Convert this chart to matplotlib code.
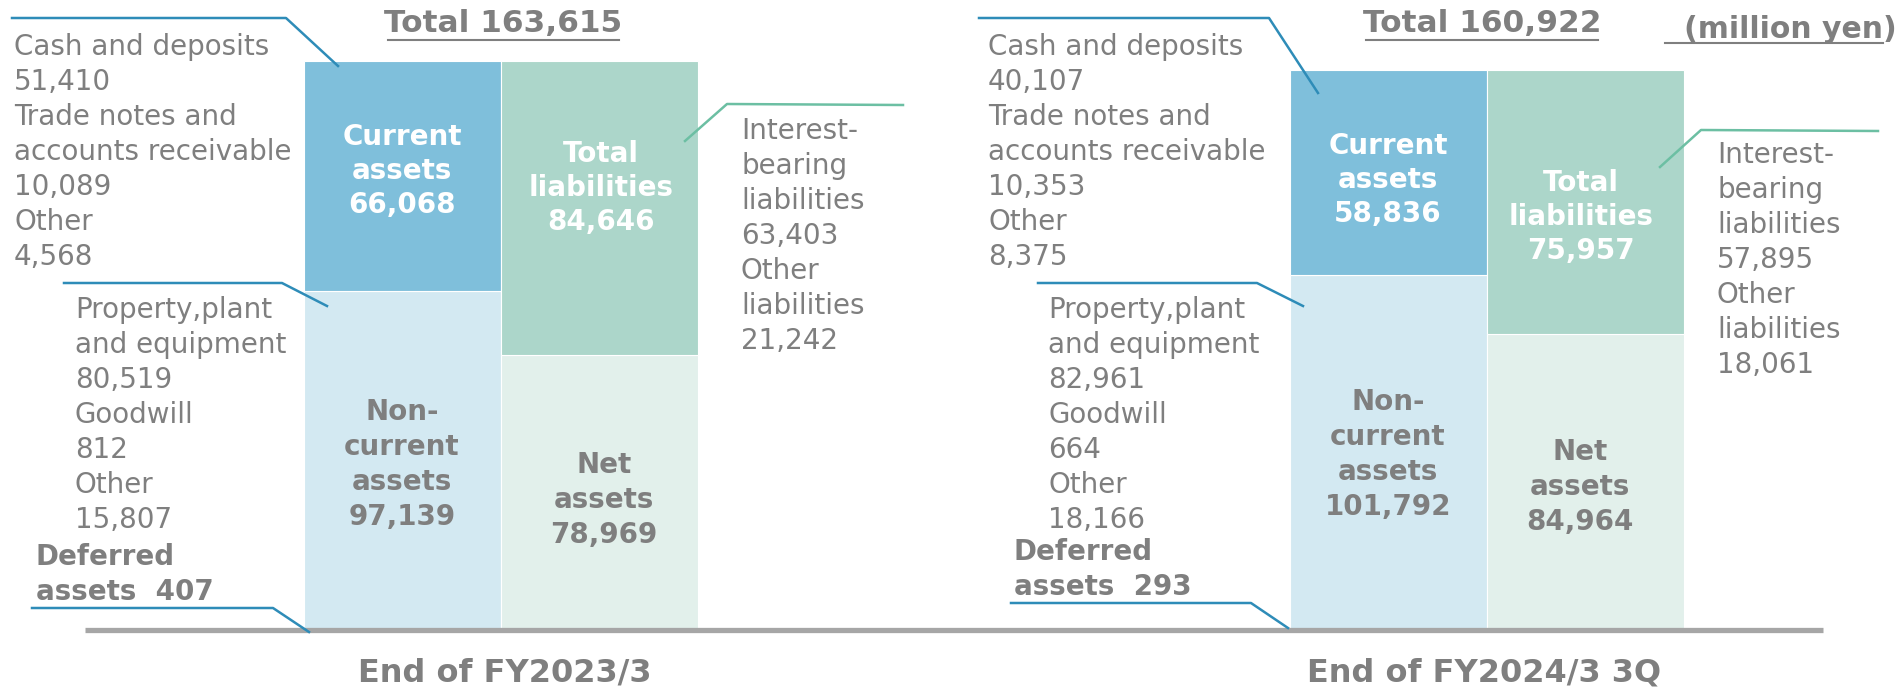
import matplotlib
matplotlib.use("Agg")
import matplotlib.pyplot as plt

plt.rcParams['font.family'] = ['DejaVu Sans']

# ---- data (million yen) ----
categories = ["End of FY2023/3", "End of FY2024/3 3Q"]
totals = [163615, 160922]
current_assets = [66068, 58836]
noncurrent_assets = [97139, 101792]
deferred_assets = [407, 293]
total_liabilities = [84646, 75957]
net_assets = [78969, 84964]
cash = [51410, 40107]
receivables = [10089, 10353]
other_current = [4568, 8375]
ppe = [80519, 82961]
goodwill = [812, 664]
other_noncurrent = [15807, 18166]
interest_bearing = [63403, 57895]
other_liabilities = [21242, 18061]
unit_label = "(million yen)"

# ---- styles ----
C_CA = '#7fbfdb'
C_NCA = '#d3e9f2'
C_TL = '#acd6ca'
C_NA = '#e2f0eb'
GRAY = '#7f7f7f'
BLUE = '#2e8cb8'
TEAL = '#6cbfa3'

W, H = 1900, 688
fig = plt.figure(figsize=(W / 100, H / 100), dpi=100)
ax = fig.add_axes([0, 0, 1, 1])
ax.set_xlim(0, W)
ax.set_ylim(-16666, 181029)
ax.axis('off')
ax2 = fig.add_axes([0, 0, 1, 1])
ax2.set_xlim(0, W)
ax2.set_ylim(H, 0)
ax2.axis('off')
ax2.patch.set_alpha(0)

asset_x = [402, 1388]
liab_x = [599, 1585]
bw = 197

for i in range(2):
    ax.bar(asset_x[i], deferred_assets[i], bottom=0, width=bw, color=C_NCA, linewidth=0)
    ax.bar(asset_x[i], noncurrent_assets[i], bottom=deferred_assets[i], width=bw,
           color=C_NCA, edgecolor='white', linewidth=0.8)
    ax.bar(asset_x[i], current_assets[i], bottom=deferred_assets[i] + noncurrent_assets[i],
           width=bw, color=C_CA, edgecolor='white', linewidth=0.8)
    ax.bar(liab_x[i], net_assets[i], bottom=0, width=bw, color=C_NA, edgecolor='white', linewidth=0.8)
    ax.bar(liab_x[i], total_liabilities[i], bottom=net_assets[i], width=bw,
           color=C_TL, edgecolor='white', linewidth=0.8)

# baseline
ax.plot([85, 1823], [0, 0], color='#a6a6a6', lw=3.8, solid_capstyle='butt', zorder=5)


def block(x, y0, lines, step=35, ha='left', color=GRAY, weight='normal', size=20):
    for k, s in enumerate(lines):
        ax2.text(x, y0 + k * step, s, ha=ha, va='center', color=color,
                 fontsize=size, fontweight=weight)


def f(v):
    return f"{v:,}"


cash_x = [14, 988]
ppe_x = [75, 1048]
def_x = [36, 1014]
def_y = [557, 552]
ib_x = [741, 1717]
ib_y = [131, 155]
ca_y = [137, 146]
tl_y = [154, 183]
nca_y = [412, 402]
na_y = [465, 452]
na_x = [604, 1580]
tl_x = [601, 1581]
tot_x = [503, 1482]
cat_x = [505, 1484]

for i in range(2):
    block(cash_x[i], 47, ["Cash and deposits", f(cash[i]), "Trade notes and",
                          "accounts receivable", f(receivables[i]), "Other", f(other_current[i])])
    block(ppe_x[i], 310, ["Property,plant", "and equipment", f(ppe[i]), "Goodwill",
                          f(goodwill[i]), "Other", f(other_noncurrent[i])])
    block(def_x[i], def_y[i], ["Deferred", f"assets  {deferred_assets[i]}"], step=35, weight='bold')
    block(ib_x[i], ib_y[i], ["Interest-", "bearing", "liabilities", f(interest_bearing[i]),
                             "Other", "liabilities", f(other_liabilities[i])])
    block(asset_x[i], ca_y[i], ["Current", "assets", f(current_assets[i])], step=34,
          ha='center', color='white', weight='bold')
    block(tl_x[i], tl_y[i], ["Total", "liabilities", f(total_liabilities[i])], step=34,
          ha='center', color='white', weight='bold')
    block(asset_x[i], nca_y[i], ["Non-", "current", "assets", f(noncurrent_assets[i])], step=35,
          ha='center', weight='bold')
    block(na_x[i], na_y[i], ["Net", "assets", f(net_assets[i])], step=35,
          ha='center', weight='bold')
    ax2.text(tot_x[i], 24, f"Total {totals[i]:,}", ha='center', va='center', color=GRAY,
             fontsize=22.5, fontweight='bold')
    ax2.text(cat_x[i], 673, categories[i], ha='center', va='center', color=GRAY,
             fontsize=23, fontweight='bold')

# underlines
ax2.plot([388, 619], [40, 40], color=GRAY, lw=1.5)
ax2.plot([1366, 1598], [40, 40], color=GRAY, lw=1.5)
ax2.text(1897, 30, unit_label, ha='right', va='center', color=GRAY, fontsize=21.5, fontweight='bold')
ax2.plot([1665, 1883], [43, 43], color=GRAY, lw=1.5)

# callout lines
callouts = [
    ([12, 286, 338], [18, 18, 66], BLUE),
    ([64, 282, 327], [283, 283, 306], BLUE),
    ([32, 273, 309], [608, 608, 632], BLUE),
    ([685, 727, 903], [141, 104, 105], TEAL),
    ([979, 1269, 1318], [18, 18, 93], BLUE),
    ([1038, 1257, 1303], [283, 283, 306], BLUE),
    ([1011, 1251, 1288], [603, 603, 628], BLUE),
    ([1660, 1701, 1878], [167, 130, 131], TEAL),
]
for xs, ys, c in callouts:
    ax2.plot(xs, ys, color=c, lw=1.8, zorder=6)

fig.savefig("out.png", dpi=100)
